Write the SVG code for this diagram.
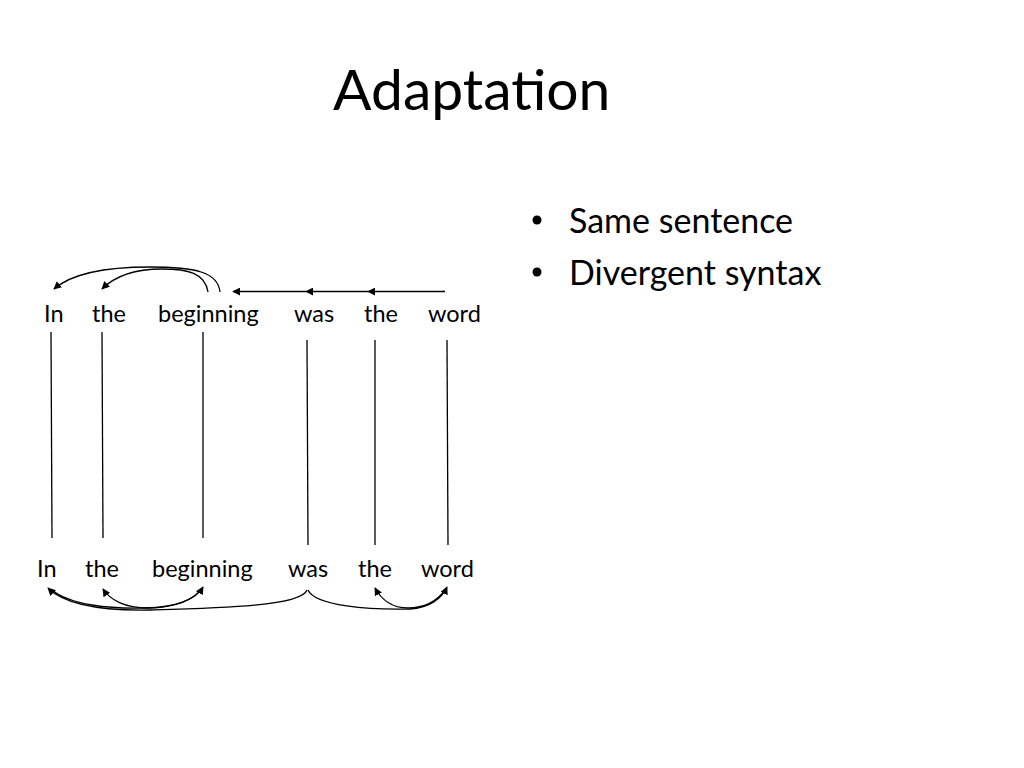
<svg xmlns="http://www.w3.org/2000/svg" width="1024" height="768" viewBox="0 0 1024 768">
<defs>
<marker id="ah" viewBox="0 0 10 10" refX="9" refY="5" markerWidth="8" markerHeight="8" markerUnits="userSpaceOnUse" orient="auto">
<path d="M0,0 L10,5 L0,10 z" fill="#000"/>
</marker>
</defs>
<style>
text{font-family:Lato,"Open Sans","Liberation Sans",sans-serif;fill:#000}
.w{font-size:23.5px}
.t{font-size:57px}
.b{font-size:34px}
.c{fill:none;stroke:#000;stroke-width:1.3}
.a{marker-end:url(#ah)}
</style>
<rect width="1024" height="768" fill="#fff"/>
<text id="title" class="t" x="333" y="110">Adaptation</text>
<g id="bullets">
<circle cx="537" cy="220" r="4.5" fill="#000"/>
<text class="b" x="569" y="233">Same sentence</text>
<circle cx="537" cy="272" r="4.5" fill="#000"/>
<text class="b" x="569" y="285">Divergent syntax</text>
</g>
<g id="top-words">
<text id="t-in" class="w" x="44" y="322">In</text>
<text id="t-the1" class="w" x="92" y="322">the</text>
<text id="t-beginning" class="w" x="158" y="322">beginning</text>
<text id="t-was" class="w" x="294" y="322">was</text>
<text id="t-the2" class="w" x="364" y="322">the</text>
<text id="t-word" class="w" x="428" y="322">word</text>
</g>
<g id="bottom-words">
<text id="b-in" class="w" x="37" y="577">In</text>
<text id="b-the1" class="w" x="85" y="577">the</text>
<text id="b-beginning" class="w" x="152" y="577">beginning</text>
<text id="b-was" class="w" x="288" y="577">was</text>
<text id="b-the2" class="w" x="358" y="577">the</text>
<text id="b-word" class="w" x="421" y="577">word</text>
</g>
<g id="connectors">
<line class="c" x1="51" y1="332" x2="52" y2="538"/>
<line class="c" x1="102" y1="332" x2="103" y2="538"/>
<line class="c" x1="203" y1="332" x2="203" y2="538"/>
<line class="c" x1="307" y1="340" x2="308" y2="545"/>
<line class="c" x1="375" y1="340" x2="375" y2="545"/>
<line class="c" x1="447" y1="340" x2="448" y2="545"/>
<path class="c a" d="M220,292 C218,272 195,267 150,267 C100,267 70,275 54,289"/>
<path class="c a" d="M208,292 C205,273 188,269 162,269 C132,269 114,277 102,289"/>
<line class="c a" x1="445" y1="291.5" x2="368" y2="291.5"/>
<line class="c a" x1="368" y1="291.5" x2="306" y2="291.5"/>
<line class="c a" x1="306" y1="291.5" x2="233" y2="291.5"/>
<path class="c a" d="M307,590 C302,606 220,608 150,610 C95,611 62,602 48,588"/>
<path class="c a" d="M52,590 C70,605 110,609 145,608 C178,607 196,599 203,587"/>
<path class="c a" d="M200,591 C188,604 165,608 148,608 C125,608 110,600 103,589"/>
<path class="c a" d="M308,590 C315,606 370,610 410,609 C430,608 442,598 447,587"/>
<path class="c a" d="M445,590 C435,604 420,608 408,608 C392,608 381,599 375,588"/>
</g>
</svg>
